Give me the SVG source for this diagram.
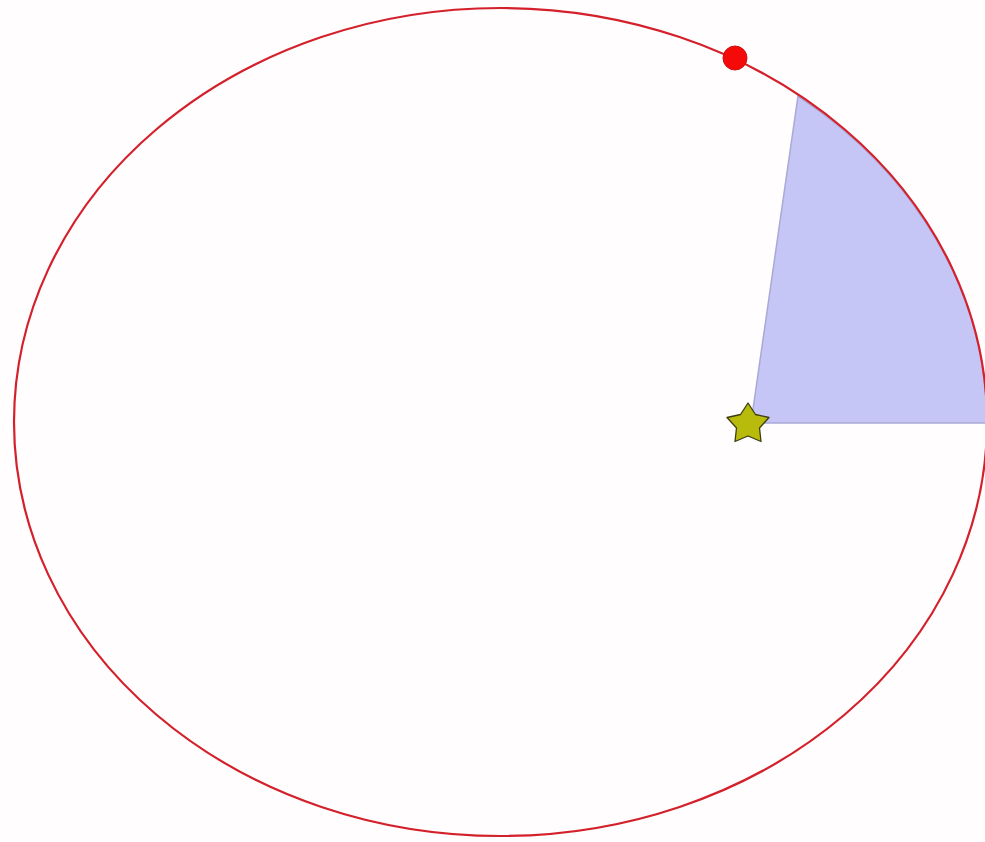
<svg xmlns="http://www.w3.org/2000/svg" width="985" height="842" viewBox="0 0 985 842">
<style>
.orbit{fill:none;stroke:#d4202a;stroke-width:2.2}
.sector{fill:#c6c6f6;stroke:#a9a9d6;stroke-width:1.5}
.star{fill:#b8ba0c;stroke:#3e3e12;stroke-width:1.3;stroke-linejoin:round}
.planet{fill:#f50a0a;stroke:#d01010;stroke-width:1}
</style>
<rect width="985" height="842" fill="#fffdfe"/>
<g id="sector"><path class="sector" d="M 751 423 L 798 96 A 486.5 414 0 0 1 987 423 Z"/></g>
<g id="orbit"><ellipse class="orbit" cx="500.5" cy="422" rx="486.5" ry="414"/></g>
<g id="star"><polygon class="star" points="748,403 755.5,414.5 769,417.5 759.5,428 761,441.5 748,436 735,441.5 736.5,428 727,417.5 740.5,414.5"/></g>
<g id="planet"><circle class="planet" cx="735" cy="58" r="12"/></g>
</svg>
